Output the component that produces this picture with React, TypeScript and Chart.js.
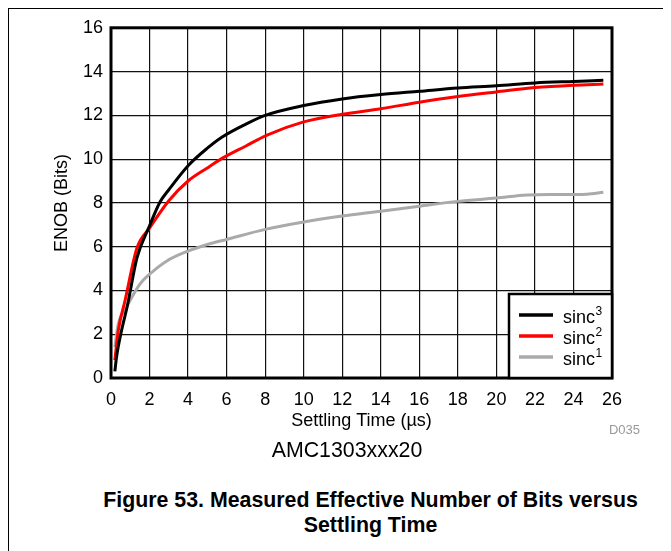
import React, { useEffect, useRef } from "react";
import { Chart, registerables } from "chart.js";

Chart.register(...registerables);

// Settling time (µs) and ENOB (bits)
const sinc3X = [0.2, 0.29, 0.55, 0.85, 1.35, 2.0, 2.55, 3.0, 4.0, 5.0, 5.75, 7.0, 8.0, 10.0, 12.0, 14.0, 16.0, 18.0, 20.0, 22.0, 24.0, 25.55];
const sinc3Y = [0.3, 0.97, 2.18, 3.3, 5.5, 6.95, 8.05, 8.6, 9.7, 10.5, 11.0, 11.6, 12.0, 12.45, 12.75, 12.95, 13.1, 13.25, 13.35, 13.48, 13.55, 13.6];

const sinc2X = [0.2, 0.38, 0.73, 1.35, 2.0, 3.0, 4.0, 5.0, 5.7, 7.0, 8.1, 10.0, 12.0, 14.0, 16.0, 18.0, 20.0, 22.0, 24.0, 25.55];
const sinc2Y = [0.82, 2.18, 3.54, 5.95, 6.85, 8.1, 9.0, 9.6, 10.0, 10.6, 11.1, 11.7, 12.05, 12.3, 12.6, 12.86, 13.07, 13.27, 13.38, 13.43];

const sinc1X = [0.2, 0.38, 0.8, 1.5, 2.0, 2.9, 4.0, 5.0, 6.0, 8.0, 10.0, 12.0, 14.0, 16.0, 18.0, 20.0, 21.6, 23.0, 24.7, 25.55];
const sinc1Y = [1.42, 2.48, 3.23, 4.29, 4.74, 5.35, 5.8, 6.1, 6.33, 6.79, 7.13, 7.4, 7.62, 7.85, 8.07, 8.22, 8.36, 8.38, 8.4, 8.49];

const seriesLabels = ["sinc³", "sinc²", "sinc¹"];
const xTitle = "Settling Time (µs)";
const yTitle = "ENOB (Bits)";
const deviceLabel = "AMC1303xxx20";
const figureId = "D035";
const captionLines = ["Figure 53. Measured Effective Number of Bits versus", "Settling Time"];

const FONT = '"Liberation Sans", Arial, Helvetica, sans-serif';
const colors = ["#000000", "#ff0000", "#aaaaaa"];

const supMap: Record<string, string> = { "¹": "1", "²": "2", "³": "3" };

const framePlugin = {
  id: "frameAndLegend",
  afterDraw(chart: any) {
    const { ctx, chartArea } = chart;
    const { left, right, top, bottom } = chartArea;
    ctx.save();
    // frame
    ctx.strokeStyle = "#000";
    ctx.lineWidth = 3;
    ctx.strokeRect(left, top, right - left, bottom - top);

    // legend box
    const bw = 103;
    const bh = 84;
    const bx = right - bw;
    const by = bottom - bh;
    ctx.fillStyle = "#fff";
    ctx.fillRect(bx, by, bw, bh);
    ctx.lineWidth = 2.5;
    ctx.strokeRect(bx, by, bw, bh);

    chart.data.datasets.forEach((ds: any, i: number) => {
      const ly = by + 21 + i * 21;
      ctx.strokeStyle = ds.borderColor;
      ctx.lineWidth = 3.5;
      ctx.beginPath();
      ctx.moveTo(bx + 10, ly);
      ctx.lineTo(bx + 44, ly);
      ctx.stroke();

      const label: string = ds.label;
      const last = label.slice(-1);
      const base = supMap[last] ? label.slice(0, -1) : label;
      const sup = supMap[last] || "";
      ctx.fillStyle = "#000";
      ctx.textBaseline = "alphabetic";
      ctx.textAlign = "left";
      ctx.font = `18px ${FONT}`;
      ctx.fillText(base, bx + 54, ly + 7.5);
      const w = ctx.measureText(base).width;
      if (sup) {
        ctx.font = `12px ${FONT}`;
        ctx.fillText(sup, bx + 54 + w + 0.5, ly - 0.5);
      }
    });
    ctx.restore();
  },
};

export default function App() {
  const ref = useRef<HTMLCanvasElement | null>(null);

  useEffect(() => {
    document.documentElement.style.overflow = "hidden";
    const canvas = ref.current;
    if (!canvas) return;
    const xs = [sinc3X, sinc2X, sinc1X];
    const ys = [sinc3Y, sinc2Y, sinc1Y];
    const chart = new Chart(canvas, {
      type: "line",
      data: {
        datasets: seriesLabels.map((label, i) => ({
          label,
          data: xs[i].map((x, j) => ({ x, y: ys[i][j] })),
          borderColor: colors[i],
          backgroundColor: colors[i],
          borderWidth: 3,
          pointRadius: 0,
          fill: false,
          cubicInterpolationMode: "monotone" as const,
        })),
      },
      options: {
        responsive: false,
        animation: false,
        devicePixelRatio: 1,
        layout: { padding: { left: 0, top: 16, right: 51, bottom: 0 } },
        plugins: {
          legend: { display: false },
          tooltip: { enabled: false },
        },
        scales: {
          x: {
            type: "linear",
            min: 0,
            max: 26,
            afterFit(scale: any) {
              scale.height = 71;
            },
            ticks: {
              stepSize: 2,
              padding: 11,
              color: "#000",
              font: { family: FONT, size: 18 },
            },
            grid: { color: "#111111", lineWidth: 1.2, drawTicks: false },
            border: { display: false },
            title: {
              display: true,
              text: xTitle,
              color: "#000",
              font: { family: FONT, size: 18, lineHeight: 1.2 },
              padding: { top: 0, bottom: 17 },
            },
          },
          y: {
            type: "linear",
            min: 0,
            max: 16,
            afterFit(scale: any) {
              scale.width = 102;
            },
            ticks: {
              stepSize: 2,
              padding: 8,
              color: "#000",
              font: { family: FONT, size: 18 },
            },
            grid: { color: "#111111", lineWidth: 1.2, drawTicks: false },
            border: { display: false },
            title: {
              display: true,
              text: yTitle,
              color: "#000",
              font: { family: FONT, size: 18, lineHeight: 1.2 },
              padding: { top: 42, bottom: 0 },
            },
          },
        },
      },
      plugins: [framePlugin],
    });
    return () => chart.destroy();
  }, []);

  return (
    <div
      style={{
        position: "relative",
        width: 663,
        height: 543,
        boxSizing: "border-box",
        borderTop: "1px solid #000",
        borderLeft: "1px solid #000",
        fontFamily: FONT,
        color: "#000",
      }}
    >
      <canvas
        ref={ref}
        width={654}
        height={440}
        style={{ position: "absolute", left: 0, top: 0, width: 654, height: 440 }}
      />
      <div
        style={{
          position: "absolute",
          left: 560,
          width: 71,
          top: 414,
          textAlign: "right",
          fontSize: 13,
          lineHeight: "13px",
          color: "#999",
        }}
      >
        {figureId}
      </div>
      <div
        style={{
          position: "absolute",
          left: 138,
          width: 400,
          top: 431,
          textAlign: "center",
          fontSize: 21.33,
          lineHeight: "21.33px",
        }}
      >
        {deviceLabel}
      </div>
      <div
        style={{
          position: "absolute",
          left: 71.5,
          width: 580,
          top: 479,
          textAlign: "center",
          fontSize: 21.33,
          fontWeight: "bold",
          lineHeight: "25px",
        }}
      >
        {captionLines.map((l, i) => (
          <div key={i}>{l}</div>
        ))}
      </div>
    </div>
  );
}
